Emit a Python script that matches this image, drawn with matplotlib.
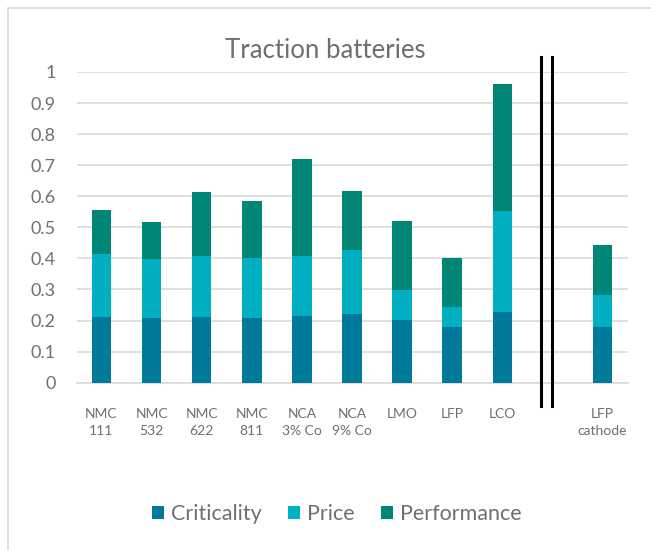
import numpy as np
import matplotlib
matplotlib.use("Agg")
import matplotlib.pyplot as plt
from matplotlib.patches import Rectangle, Patch
from matplotlib.lines import Line2D

plt.rcParams['font.family'] = ['Lato', 'DejaVu Sans']

categories = ["NMC\n111", "NMC\n532", "NMC\n622", "NMC\n811", "NCA\n3% Co",
              "NCA\n9% Co", "LMO", "LFP", "LCO", "", "LFP\ncathode"]
criticality = [0.210, 0.208, 0.211, 0.208, 0.215, 0.222, 0.203, 0.178, 0.228, np.nan, 0.178]
price = [0.204, 0.190, 0.197, 0.194, 0.192, 0.206, 0.094, 0.065, 0.324, np.nan, 0.105]
performance = [0.141, 0.119, 0.206, 0.183, 0.314, 0.189, 0.222, 0.159, 0.409, np.nan, 0.161]
yticks = [0, 0.1, 0.2, 0.3, 0.4, 0.5, 0.6, 0.7, 0.8, 0.9, 1]
ytick_labels = ["0", "0.1", "0.2", "0.3", "0.4", "0.5", "0.6", "0.7", "0.8", "0.9", "1"]
series_names = ["Criticality", "Price", "Performance"]

colors = ["#007A9B", "#00AFC1", "#008676"]
text_color = "#6f6f6f"
grid_color = "#d9d9d9"

W, H = 651, 550
fig = plt.figure(figsize=(W / 100, H / 100), dpi=100)
fig.patch.set_facecolor("white")

# outer chart frame (runs off the right and bottom edges)
fig.patches.append(Rectangle((8 / W, -0.02), 1.05, 1 - 8 / H + 0.02,
                             transform=fig.transFigure, fill=False,
                             edgecolor=grid_color, linewidth=1.2))

left, right = 76.5 / W, 627.5 / W
bottom, top = (H - 382.7) / H, (H - 72) / H
ax = fig.add_axes([left, bottom, right - left, top - bottom])

x = np.arange(len(categories))
crit = np.array(criticality)
pr = np.array(price)
perf = np.array(performance)
width = 0.39
ax.bar(x, crit, width, color=colors[0], zorder=3)
ax.bar(x, pr, width, bottom=crit, color=colors[1], zorder=3)
ax.bar(x, perf, width, bottom=crit + pr, color=colors[2], zorder=3)

ax.set_xlim(-0.5, len(categories) - 0.5)
ax.set_ylim(0, 1)
ax.yaxis.grid(True, color=grid_color, linewidth=1.2, zorder=0)
ax.set_axisbelow(True)
ax.set_yticks(yticks)
ax.set_yticklabels(ytick_labels)
ax.set_xticks(x)
ax.set_xticklabels(categories, linespacing=1.56)
ax.tick_params(axis="y", length=0, pad=15, labelsize=13, labelcolor=text_color)
ax.tick_params(axis="x", length=0, pad=18, labelsize=10, labelcolor=text_color)

for s in ["top", "right", "left"]:
    ax.spines[s].set_visible(False)
ax.spines["bottom"].set_color(grid_color)
ax.spines["bottom"].set_linewidth(1.2)
ax.spines["bottom"].set_zorder(2)

# double break line separating the cathode-only entry
for xv in (8.77, 9.0):
    ax.add_line(Line2D([xv, xv], [-0.075, 1.047], color="black",
                       linewidth=2.2, clip_on=False, zorder=4))

fig.text(0.5, (H - 58.3) / H, "Traction batteries", ha="center", va="baseline",
         fontsize=18.5, color=text_color)

fs = 15.5
handles = [Patch(facecolor=c, edgecolor="none") for c in colors]
fig.legend(handles, series_names, loc="center", bbox_to_anchor=(336.5 / W, (H - 514) / H),
           ncol=3, frameon=False, fontsize=fs, labelcolor=text_color,
           handlelength=0.586, handleheight=0.586, handletextpad=0.31,
           columnspacing=1.21)

fig.savefig("out.png", dpi=100, facecolor="white")
